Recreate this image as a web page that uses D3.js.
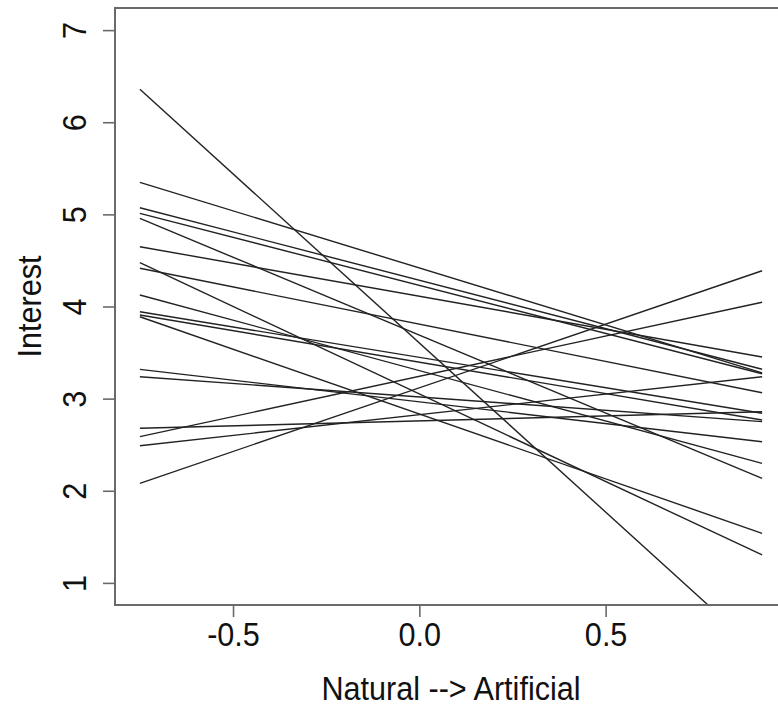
<!DOCTYPE html>
<html>
<head>
<meta charset="utf-8">
<script src="https://cdn.jsdelivr.net/npm/d3@7"></script>
<style>
  html, body { margin: 0; padding: 0; background: #fff; }
  svg { display: block; }
  text { font-family: "Liberation Sans", Arial, Helvetica, sans-serif; fill: #111; }
</style>
</head>
<body>
<svg id="chart" width="778" height="707"></svg>
<script>
// ---------------- data ----------------
const xEnds = [-0.75, 0.92];            // Natural --> Artificial range of every line
const interestNatural = [6.357, 5.348, 5.072, 5.011, 4.957, 4.649, 4.475, 4.415, 4.125,
                         3.943, 3.908, 3.889, 3.318, 3.238, 2.678, 2.587, 2.489, 2.081];
const interestArtificial = [0.227, 3.279, 3.319, 3.270, 2.135, 3.452, 1.303, 3.064, 2.298,
                            2.841, 2.768, 1.538, 2.532, 2.750, 2.858, 4.046, 3.238, 4.388];
const xTicks = [-0.5, 0.0, 0.5];
const yTicks = [1, 2, 3, 4, 5, 6, 7];
const xLabel = "Natural --> Artificial";
const yLabel = "Interest";

// ---------------- layout ----------------
const svg = d3.select("#chart");
const pLeft = 115, pTop = 8, pRight = 787, pBottom = 605;
const narrow = 0.9;
const fontSize = 34;
const fmtX = d => d.toFixed(1);   // plain hyphen-minus, as in the original

const x = d3.scaleLinear().domain([-0.8168, 0.9868]).range([pLeft, pRight]);
const y = d3.scaleLinear().domain([0.76, 7.24]).range([pBottom, pTop]);

svg.append("defs").append("clipPath").attr("id", "plotclip")
  .append("rect").attr("x", pLeft).attr("y", pTop)
  .attr("width", pRight - pLeft).attr("height", pBottom - pTop);

// lines
const lines = interestNatural.map((v, i) => [[xEnds[0], v], [xEnds[1], interestArtificial[i]]]);
const lineGen = d3.line().x(d => x(d[0])).y(d => y(d[1]));
svg.append("g").attr("clip-path", "url(#plotclip)")
  .selectAll("path").data(lines).join("path")
  .attr("d", lineGen)
  .attr("fill", "none")
  .attr("stroke", "#222")
  .attr("stroke-width", 1.4);

// frame
svg.append("rect")
  .attr("x", pLeft).attr("y", pTop)
  .attr("width", pRight - pLeft).attr("height", pBottom - pTop)
  .attr("fill", "none").attr("stroke", "#6a6a6a").attr("stroke-width", 2);

// axes
const xAxis = svg.append("g").attr("transform", `translate(0,${pBottom})`)
  .call(d3.axisBottom(x).tickValues(xTicks).tickFormat(fmtX).tickSize(12).tickPadding(0));
xAxis.select(".domain").remove();
xAxis.selectAll(".tick line").attr("stroke", "#6a6a6a").attr("stroke-width", 1.6);
xAxis.selectAll(".tick text").remove();
xAxis.selectAll(".tick").append("text")
  .attr("transform", `translate(0,41) scale(${narrow},1)`)
  .attr("text-anchor", "middle")
  .style("font-size", fontSize + "px")
  .text(fmtX);

const yAxis = svg.append("g").attr("transform", `translate(${pLeft},0)`)
  .call(d3.axisLeft(y).tickValues(yTicks).tickSize(12).tickPadding(0));
yAxis.select(".domain").remove();
yAxis.selectAll(".tick line").attr("stroke", "#6a6a6a").attr("stroke-width", 1.6);
yAxis.selectAll(".tick text").remove();
yAxis.selectAll(".tick").append("text")
  .attr("transform", `translate(-29,0) rotate(-90) scale(${narrow},1)`)
  .attr("text-anchor", "middle")
  .style("font-size", fontSize + "px")
  .text(d => d);

// titles
svg.append("text")
  .attr("transform", `translate(${(pLeft + pRight) / 2},700) scale(${narrow},1)`)
  .attr("text-anchor", "middle")
  .style("font-size", fontSize + "px")
  .text(xLabel);

svg.append("text")
  .attr("transform", `translate(41,${(pTop + pBottom) / 2}) rotate(-90) scale(${narrow},1)`)
  .attr("text-anchor", "middle")
  .style("font-size", fontSize + "px")
  .text(yLabel);
</script>
</body>
</html>
